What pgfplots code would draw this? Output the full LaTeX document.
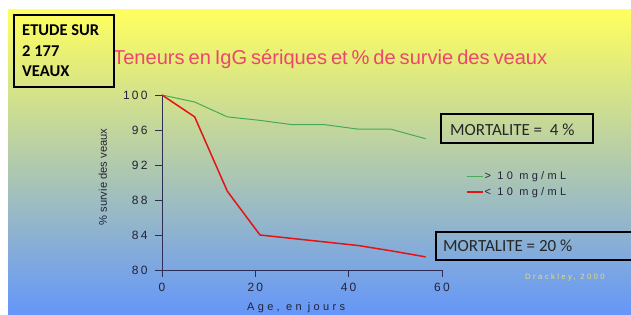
\documentclass[border=0pt]{standalone}
\usepackage{pgfplots}
\pgfplotsset{compat=1.18}
\usepackage{fontspec}
\setmainfont{Liberation Sans}
\newfontfamily\wide[LetterSpace=30]{Liberation Sans}
\newfontfamily\tickfont[LetterSpace=18]{Liberation Sans}
\newfontfamily\titlefont[WordSpace=0.7]{Liberation Sans}
\newfontfamily\carlito{Carlito}
\definecolor{slideY}{RGB}{255,255,95}
\definecolor{slideM}{RGB}{195,210,195}
\definecolor{slideB}{RGB}{100,150,250}
\definecolor{axiscol}{RGB}{45,45,85}
\definecolor{labcol}{RGB}{35,35,55}
\definecolor{titlecol}{RGB}{236,70,110}
\definecolor{greenline}{RGB}{70,170,90}
\definecolor{redline}{RGB}{228,20,20}
\definecolor{credit}{RGB}{228,218,130}
\begin{document}
\begin{tikzpicture}[x=1pt,y=1pt]
\useasboundingbox (0,0) rectangle (631,315);
\fill[white] (0,0) rectangle (631,315);
\shade[top color=slideY, middle color=slideM, bottom color=slideB] (8,0) rectangle (631,305);
% title
\node[anchor=base west, inner sep=0pt, text=titlecol, font=\titlefont\fontsize{20.1}{22}\selectfont] at (113,250) {Teneurs en IgG sériques et \% de survie des veaux};
% study box
\draw[line width=1.4pt] (14,228) rectangle (114,300);
\node[anchor=base west, inner sep=0pt, font=\carlito\bfseries\fontsize{16.5}{18}\selectfont] at (22,279) {ETUDE SUR};
\node[anchor=base west, inner sep=0pt, font=\carlito\bfseries\fontsize{16.5}{18}\selectfont] at (22,258) {2 177};
\node[anchor=base west, inner sep=0pt, font=\carlito\bfseries\fontsize{16.5}{18}\selectfont] at (22,238) {VEAUX};
% mortality boxes
\draw[line width=1.4pt] (441,172) rectangle (593,201);
\node[anchor=base west, inner sep=0pt, text=black!85, font=\carlito\fontsize{17}{19}\selectfont] at (450,179) {MORTALITE =\ \ 4 \%};
\draw[line width=1.4pt] (436,55) rectangle (645,83);
\node[anchor=base west, inner sep=0pt, text=black!85, font=\carlito\fontsize{17}{19}\selectfont] at (443,63) {MORTALITE = 20 \%};
% credit
\node[anchor=center, inner sep=0pt, text=credit, font=\wide\fontsize{7.8}{9}\selectfont] at (565,38) {Drackley, 2000};
\begin{axis}[
  at={(162pt,45pt)}, anchor=south west,
  scale only axis, width=280pt, height=175pt,
  xmin=0, xmax=60, ymin=80, ymax=100,
  axis x line=bottom, axis y line=left,
  axis line style={-, draw=axiscol, line width=0.9pt},
  tick style={draw=axiscol, line width=0.9pt},
  tick align=outside, major tick length=7pt,
  xtick={0,20,40,60}, ytick={80,84,88,92,96,100},
  /pgf/number format/assume math mode=true,
  ticklabel style={font=\tickfont\fontsize{12}{14}\selectfont, text=labcol},
  xticklabel style={yshift=-2.5pt},
  yticklabel style={xshift=-4pt},
  xlabel={Age, en jours},
  xlabel style={at={(axis description cs:0.479,-0.217)}, anchor=center, font=\wide\fontsize{11}{13}\selectfont, text=labcol},
  ylabel={\% survie des veaux},
  ylabel style={at={(axis description cs:-0.211,0.531)}, anchor=center, font=\fontsize{11.2}{13}\selectfont, text=labcol},
  legend style={draw=none, fill=none, at={(axis description cs:1.0857,0.57)}, anchor=north west,
    font=\wide\fontsize{11}{13}\selectfont, text=labcol, inner sep=0pt, row sep=4.5pt,
    nodes={inner sep=1pt}},
  legend cell align=left,
  legend image code/.code={\draw[#1] (0pt,0pt) -- (16pt,0pt);},
  clip=false,
]
\addplot[greenline, line width=1pt] coordinates {
 (0,100) (7,99.2) (14,97.5) (21,97.1) (28,96.6) (35,96.6) (42,96.1) (49,96.1) (56.5,95.0)
};
\addlegendentry{> 10 mg/mL}
\addplot[redline, line width=1.5pt] coordinates {
 (0,100) (7,97.5) (14,89.0) (21,84.0) (28,83.6) (35,83.2) (42,82.8) (49,82.2) (56.5,81.5)
};
\addlegendentry{< 10 mg/mL}
\end{axis}
\end{tikzpicture}
\end{document}
